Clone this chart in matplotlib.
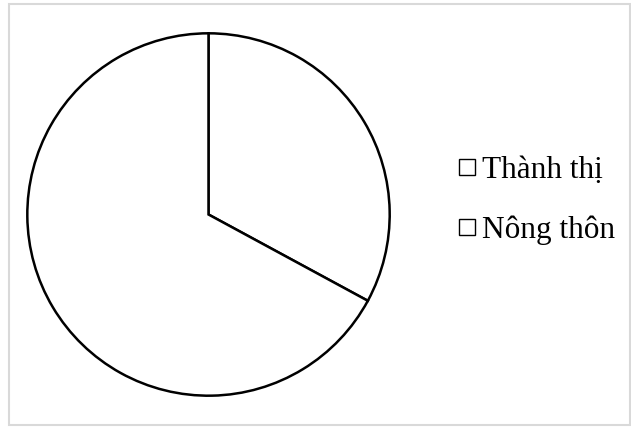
import matplotlib
matplotlib.use("Agg")
import matplotlib.pyplot as plt
from matplotlib.patches import Rectangle
from matplotlib.lines import Line2D

labels = ["Thành thị", "Nông thôn"]
values = [32.9, 67.1]

W, H = 631, 428
fig = plt.figure(figsize=(W / 100, H / 100), dpi=100)
plt.rcParams['font.family'] = ['Liberation Serif', 'DejaVu Serif']

# border
fig.patches.append(Rectangle((9 / W, 1 - 425 / H), (630 - 9) / W, (425 - 4) / H,
                             transform=fig.transFigure, fill=False,
                             edgecolor='#d9d9d9', linewidth=1.5))

cx, cy, r = 208.5, 214.5, 183
ax = fig.add_axes([(cx - r) / W, 1 - (cy + r) / H, 2 * r / W, 2 * r / H])
wedges, _ = ax.pie(values, startangle=90, counterclock=False, radius=1,
                   colors=['white', 'white'],
                   wedgeprops=dict(edgecolor='black', linewidth=1.8))
ax.set_xlim(-1.01, 1.01)
ax.set_ylim(-1.01, 1.01)
ax.set_aspect('equal')
ax.axis('off')

handles = [Line2D([], [], linestyle='', marker='s', markersize=11.3,
                  markerfacecolor='white', markeredgecolor='black',
                  markeredgewidth=1.0) for _ in labels]
leg = fig.legend(handles, labels, loc='center left',
                 bbox_to_anchor=(459 / W, 1 - 200.5 / H),
                 frameon=False, fontsize=22.5, handlelength=0.5,
                 handletextpad=0.25, labelspacing=1.0, borderpad=0,
                 borderaxespad=0)

fig.savefig("out.png", dpi=100)
